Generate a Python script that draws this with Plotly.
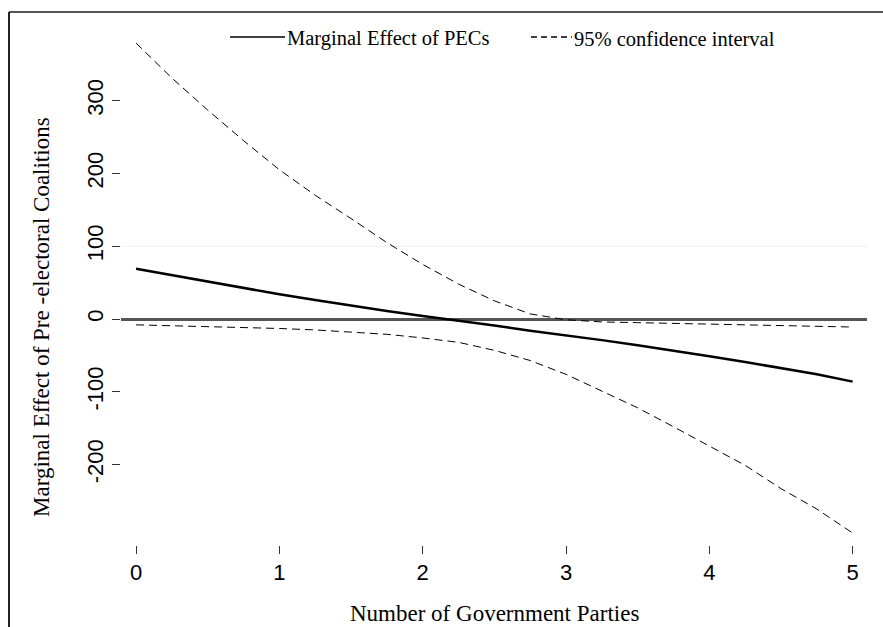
import plotly.graph_objects as go

# ---- data ----
parties = [0, 0.25, 0.5, 0.75, 1, 1.25, 1.5, 1.75, 2, 2.25, 2.5,
           2.75, 3, 3.25, 3.5, 3.75, 4, 4.25, 4.5, 4.75, 5]
marginal_effect = [69, 60, 52, 43, 34, 26, 18, 11, 4, -2, -9,
                   -16, -22, -29, -36, -43, -51, -59, -67, -76, -86]
ci_upper = [379, 331, 287, 245, 205, 170, 138, 105, 75, 48, 25,
            7, -1, -4, -5, -6, -7, -8, -9, -10, -11]
ci_lower = [-8, -9, -11, -12, -13, -15, -18, -21, -26, -32, -43,
            -57, -76, -99, -122, -148, -175, -201, -233, -261, -294]
x_ticks = [0, 1, 2, 3, 4, 5]
y_ticks = [-200, -100, 0, 100, 200, 300]
legend_labels = ["Marginal Effect of PECs", "95% confidence interval"]
x_title = "Number of Government Parties"
y_title = "Marginal Effect of Pre -electoral Coalitions"

# ---- layout geometry (pixels) ----
W, H = 883, 627
L, R, T, B = 121, 16, 23, 82
PW, PH = W - L - R, H - T - B


def px(xp):
    return (xp - L) / PW


def py(yp):
    return (H - B - yp) / PH


SERIF = "Liberation Serif, Times New Roman, serif"
SANS = "Liberation Sans, Arial, sans-serif"

fig = go.Figure()
fig.add_trace(go.Scatter(x=parties, y=ci_upper, mode="lines",
                         line=dict(color="black", width=1, dash="8px,5px"),
                         showlegend=False, hoverinfo="skip"))
fig.add_trace(go.Scatter(x=parties, y=ci_lower, mode="lines",
                         line=dict(color="black", width=1, dash="8px,5px"),
                         showlegend=False, hoverinfo="skip"))
fig.add_trace(go.Scatter(x=parties, y=marginal_effect, mode="lines",
                         line=dict(color="black", width=2.5),
                         showlegend=False, hoverinfo="skip"))

shapes = [
    # faint reference line at 100
    dict(type="line", xref="paper", yref="y", x0=0, x1=1, y0=100, y1=100,
         line=dict(color="#f0f0f0", width=1), layer="below"),
    # outer frame (top and left)
    dict(type="line", xref="paper", yref="paper", x0=px(9), x1=px(883),
         y0=py(12), y1=py(12), line=dict(color="#555555", width=2)),
    dict(type="line", xref="paper", yref="paper", x0=px(9), x1=px(9),
         y0=py(12), y1=py(627), line=dict(color="#222222", width=2)),
    # legend samples
    dict(type="line", xref="paper", yref="paper", x0=px(230), x1=px(285),
         y0=py(37), y1=py(37), line=dict(color="black", width=1.3)),
    dict(type="line", xref="paper", yref="paper", x0=px(531), x1=px(572),
         y0=py(37), y1=py(37), line=dict(color="black", width=1.3, dash="6px,4px")),
]

annotations = [
    dict(text=legend_labels[0], xref="paper", yref="paper", x=px(285), y=py(38.5),
         xanchor="left", yanchor="middle", showarrow=False,
         font=dict(family=SERIF, size=20.5, color="black")),
    dict(text=legend_labels[1], xref="paper", yref="paper", x=px(572), y=py(38.5),
         xanchor="left", yanchor="middle", showarrow=False,
         font=dict(family=SERIF, size=20.5, color="black")),
    dict(text=x_title, xref="paper", yref="paper", x=0.5, y=py(613),
         xanchor="center", yanchor="middle", showarrow=False,
         font=dict(family=SERIF, size=23, color="black")),
    dict(text=y_title, xref="paper", yref="paper", x=px(41), y=py(317),
         xanchor="center", yanchor="middle", textangle=-90, showarrow=False,
         font=dict(family=SERIF, size=23, color="black")),
]

fig.update_layout(
    width=W, height=H,
    margin=dict(l=L, r=R, t=T, b=B, pad=0),
    paper_bgcolor="white", plot_bgcolor="white",
    showlegend=False,
    shapes=shapes, annotations=annotations,
    xaxis=dict(range=[-0.105, 5.1], tickvals=x_ticks, ticktext=[str(v) for v in x_ticks],
               showgrid=False, zeroline=False, showline=False,
               ticks="outside", ticklen=8, tickwidth=1, tickcolor="#333333",
               tickfont=dict(family=SANS, size=22, color="black")),
    yaxis=dict(range=[-310.4, 406.6], tickvals=y_ticks, ticktext=[str(v) for v in y_ticks],
               showgrid=False, zeroline=True, zerolinecolor="#555555", zerolinewidth=2.5,
               showline=False, ticks="outside", ticklen=8, tickwidth=1, tickcolor="#333333",
               tickangle=-90,
               tickfont=dict(family=SANS, size=22, color="black")),
)

fig.write_html("out.html")
